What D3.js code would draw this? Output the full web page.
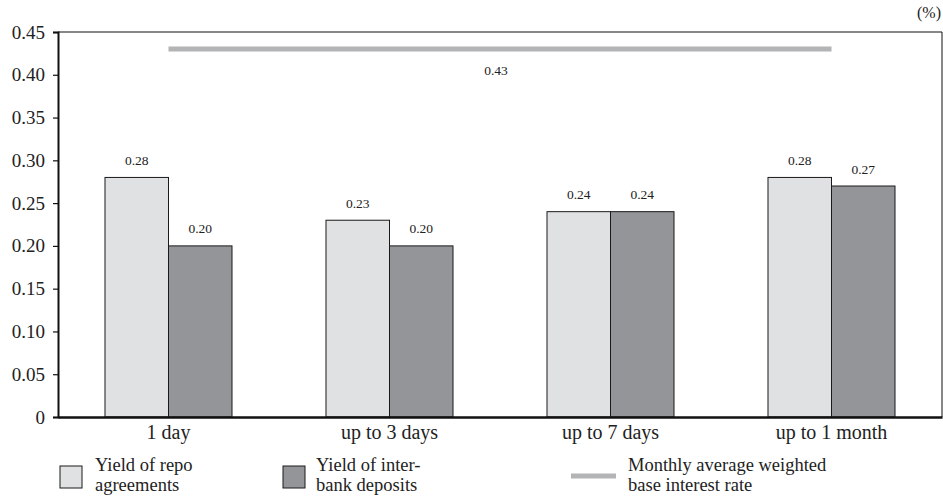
<!DOCTYPE html>
<html>
<head>
<meta charset="utf-8">
<script src="https://cdn.jsdelivr.net/npm/d3@7"></script>
<style>
  body { margin: 0; background: #fff; }
  svg { display: block; font-family: "Liberation Serif", "Times New Roman", serif; }
</style>
</head>
<body>
<svg id="chart" width="943" height="497"></svg>
<script>
// Terms of the money-market instruments
const categories = ["1 day", "up to 3 days", "up to 7 days", "up to 1 month"];
// Yields, %
const repoYield = [0.28, 0.23, 0.24, 0.28];
const depositYield = [0.20, 0.20, 0.24, 0.27];
// Monthly average weighted base interest rate, %
const baseRate = 0.43;
const yTicks = [0, 0.05, 0.10, 0.15, 0.20, 0.25, 0.30, 0.35, 0.40, 0.45];
const seriesNames = ["repo", "deposit"];

const svg = d3.select("#chart");
const W = 943, H = 497;
const margin = { left: 58, right: 1, top: 32, bottom: 80 };
const x0 = margin.left, x1 = W - margin.right;
const yTop = margin.top, yBot = H - margin.bottom;

const x = d3.scaleBand().domain(categories).range([x0, x1]).paddingInner(0).paddingOuter(0);
const xs = d3.scaleBand().domain(seriesNames).range([0, x.bandwidth()]).paddingInner(0).paddingOuter(0.74);
const y = d3.scaleLinear().domain([0, 0.45]).range([yBot, yTop]);

const colors = { repo: "#e0e1e3", deposit: "#949598" };
const fmt = d3.format(".2f");

// frame: thin top and right edges
svg.append("line").attr("x1", x0).attr("x2", x1).attr("y1", y(0.45)).attr("y2", y(0.45))
  .attr("stroke", "#111").attr("stroke-width", 1);
svg.append("line").attr("x1", x1).attr("x2", x1).attr("y1", y(0.45)).attr("y2", y(0))
  .attr("stroke", "#111").attr("stroke-width", 1);

// bars with value labels
const rows = categories.map((c, i) => ({ cat: c, repo: repoYield[i], deposit: depositYield[i] }));
const g = svg.append("g");
rows.forEach(r => {
  seriesNames.forEach(s => {
    const bx = x(r.cat) + xs(s);
    g.append("rect")
      .attr("x", bx).attr("y", y(r[s]))
      .attr("width", xs.bandwidth()).attr("height", y(0) - y(r[s]))
      .attr("fill", colors[s]).attr("stroke", "#1a1a1a").attr("stroke-width", 1);
    g.append("text")
      .attr("x", bx + xs.bandwidth() / 2).attr("y", y(r[s]) - 12.5)
      .attr("text-anchor", "middle").attr("font-size", 13.5).attr("fill", "#222")
      .text(fmt(r[s]));
  });
});

// base rate line spanning the group centres
const cx0 = x(categories[0]) + x.bandwidth() / 2;
const cx1 = x(categories[categories.length - 1]) + x.bandwidth() / 2;
svg.append("line").attr("x1", cx0).attr("x2", cx1).attr("y1", y(baseRate)).attr("y2", y(baseRate))
  .attr("stroke", "#b3b4b6").attr("stroke-width", 5);
svg.append("text").attr("x", (cx0 + cx1) / 2 - 4).attr("y", y(baseRate) + 25.5)
  .attr("text-anchor", "middle").attr("font-size", 13.5).attr("fill", "#222")
  .text(fmt(baseRate));

// y axis
const yAxis = d3.axisLeft(y).tickValues(yTicks)
  .tickFormat(d => d === 0 ? "0" : fmt(d)).tickSize(5).tickPadding(8);
const ya = svg.append("g").attr("transform", `translate(${x0},0)`).call(yAxis);
ya.select(".domain").attr("stroke", "#111").attr("stroke-width", 2);
ya.selectAll(".tick line").attr("stroke", "#111").attr("stroke-width", 1.2);
ya.selectAll(".tick text").attr("font-size", 19).attr("fill", "#222")
  .attr("font-family", "Liberation Serif, serif");

// x axis
const xAxis = d3.axisBottom(x).tickSize(0);
const xa = svg.append("g").attr("transform", `translate(0,${yBot})`).call(xAxis);
xa.select(".domain").attr("stroke", "#111").attr("stroke-width", 2.5);
xa.selectAll(".tick text").attr("y", 22).attr("dy", 0).attr("font-size", 20).attr("fill", "#222")
  .attr("font-family", "Liberation Serif, serif");

// unit
svg.append("text").attr("x", W - 2).attr("y", 18).attr("text-anchor", "end")
  .attr("font-size", 16).attr("fill", "#222").text("(%)");

// legend
const legend = [
  { type: "box", fill: colors.repo, lines: ["Yield of repo", "agreements"], bx: 60, tx: 95 },
  { type: "box", fill: colors.deposit, lines: ["Yield of inter-", "bank deposits"], bx: 283, tx: 316 },
  { type: "line", fill: "#b3b4b6", lines: ["Monthly average weighted", "base interest rate"], bx: 571, tx: 628 }
];
const lg = svg.append("g");
legend.forEach(it => {
  if (it.type === "box") {
    lg.append("rect").attr("x", it.bx).attr("y", 466).attr("width", 22).attr("height", 22)
      .attr("fill", it.fill).attr("stroke", "#1a1a1a").attr("stroke-width", 1);
  } else {
    lg.append("line").attr("x1", it.bx).attr("x2", it.bx + 45).attr("y1", 476).attr("y2", 476)
      .attr("stroke", it.fill).attr("stroke-width", 5);
  }
  it.lines.forEach((t, k) => {
    lg.append("text").attr("x", it.tx).attr("y", 471 + k * 20).attr("font-size", 18.5)
      .attr("fill", "#222").text(t);
  });
});
</script>
</body>
</html>
